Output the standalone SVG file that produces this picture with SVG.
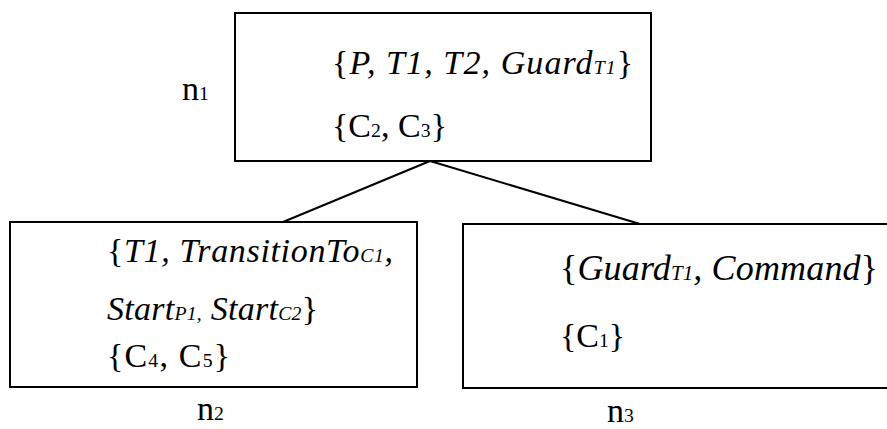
<svg xmlns="http://www.w3.org/2000/svg" width="887" height="429" viewBox="0 0 887 429">
  <style>
    .box { fill: #fff; stroke: #000; stroke-width: 2; }
    .edge { fill: none; stroke: #000; stroke-width: 2; }
    text { fill: #000; }
    .it { font-style: italic; }
    .up { font-style: normal; }
    .sub { font-size: 0.58em; }
  </style>
  <rect width="887" height="429" fill="#fff"/>

  <!-- tree edges -->
  <g id="connectors">
    <line class="edge" x1="430" y1="161" x2="283" y2="222"/>
    <line class="edge" x1="430" y1="161" x2="640" y2="224"/>
  </g>

  <g font-family="Liberation Serif, Times New Roman, serif">
    <!-- root node -->
    <g id="n1">
      <rect class="box" x="235" y="13" width="416" height="148"/>
      <text x="182" y="100" font-size="34">n<tspan class="sub">1</tspan></text>
      <text class="it" x="332" y="74" font-size="34" textLength="301"><tspan class="up">{</tspan>P, T1, T2, Guard<tspan class="sub">T1</tspan><tspan class="up">}</tspan></text>
      <text x="332" y="137" font-size="34" textLength="115">{C<tspan class="sub">2</tspan>, C<tspan class="sub">3</tspan>}</text>
    </g>

    <!-- left child -->
    <g id="n2">
      <rect class="box" x="10" y="222" width="407" height="165"/>
      <text class="it" x="107" y="262" font-size="34" textLength="286"><tspan class="up">{</tspan>T1, TransitionTo<tspan class="sub">C1</tspan>,</text>
      <text class="it" x="107" y="320" font-size="34" textLength="211">Start<tspan class="sub">P1,</tspan> Start<tspan class="sub">C2</tspan><tspan class="up">}</tspan></text>
      <text x="107" y="367" font-size="34" textLength="123">{C<tspan class="sub">4</tspan>, C<tspan class="sub">5</tspan>}</text>
      <text x="197" y="420" font-size="34">n<tspan class="sub">2</tspan></text>
    </g>

    <!-- right child (runs past the right border) -->
    <g id="n3">
      <rect class="box" x="463" y="224" width="440" height="164"/>
      <text class="it" x="560" y="280" font-size="36" textLength="318"><tspan class="up">{</tspan>Guard<tspan class="sub">T1</tspan>, Command<tspan class="up">}</tspan></text>
      <text x="560" y="347" font-size="34" textLength="65">{C<tspan class="sub">1</tspan>}</text>
      <text x="607" y="422" font-size="34">n<tspan class="sub">3</tspan></text>
    </g>
  </g>
</svg>
